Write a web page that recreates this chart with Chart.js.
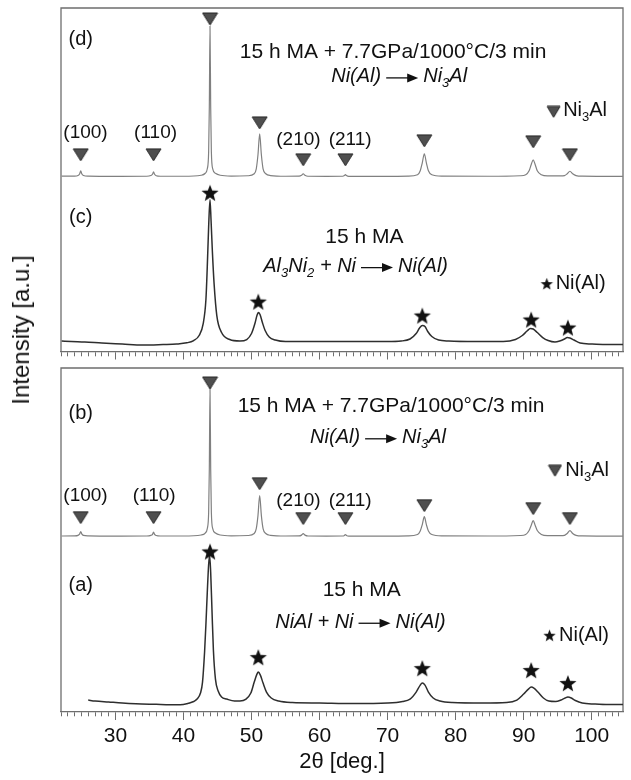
<!DOCTYPE html>
<html>
<head>
<meta charset="utf-8">
<script src="https://cdn.jsdelivr.net/npm/chart.js@4.4.1/dist/chart.umd.min.js"></script>
<style>
  body { margin: 0; background: #fff; width: 631px; height: 780px; position: relative; overflow: hidden;
         font-family: 'Liberation Sans', Arial, sans-serif; }
  #topChart { position: absolute; left: 0; top: 0; }
  #botChart { position: absolute; left: 0; top: 360px; }
  #yTitle { position: absolute; left: 21px; top: 330px; transform: translate(-50%, -50%) rotate(-90deg);
            font-size: 24px; white-space: nowrap; color: #111; }
</style>
</head>
<body>
<canvas id="topChart" width="631" height="362"></canvas>
<canvas id="botChart" width="631" height="420"></canvas>
<div id="yTitle">Intensity [a.u.]</div>
<script>
// ── Datos (2θ en grados, intensidad en u.a.) ─────────────────
const X_MIN = 22;
const X_MAX = 104.6;
const X_TICK_LABELS = [30, 40, 50, 60, 70, 80, 90, 100];

// (d) 15 h MA + 7.7GPa/1000°C/3 min  -> Ni3Al (desplazado hacia arriba)
const OFFSET_D = 175;
const patternD = [
  [22.1,0.6],[24.0,0.6],[24.5,1.2],[24.75,3],[24.9,6],[25.05,3],[25.3,1.2],[26.0,0.6],[30.0,0.4],
  [34.6,0.5],[35.2,1.2],[35.45,2.5],[35.6,5],[35.75,2.5],[36.0,1],[36.6,0.5],[40.0,0.5],
  [42.6,1.5],[43.2,3.5],[43.5,8],[43.7,25],[43.8,70],[43.9,151],[44.0,70],[44.1,25],[44.3,8],[44.7,3.5],[45.4,1.5],
  [47.0,0.7],[49.5,1],[50.4,3],[50.7,8],[50.95,22],[51.2,43],[51.45,22],[51.7,8],[52.1,3],[52.8,1.2],
  [55.0,0.5],[57.0,0.6],[57.35,1.5],[57.6,3],[57.85,1.5],[58.3,0.5],[61.0,0.4],
  [63.4,0.5],[63.65,1.2],[63.8,2.2],[63.95,1.2],[64.3,0.4],[68.0,0.3],
  [73.0,0.7],[74.4,2],[74.8,6],[75.1,14],[75.4,23],[75.7,14],[76.0,6],[76.5,2],[78.0,0.7],
  [85.0,0.5],[89.5,1],[90.3,2],[90.8,6],[91.1,12],[91.4,17],[91.7,12],[92.0,6],[92.6,2],[93.5,0.8],
  [95.4,0.8],[96.0,1.2],[96.4,3],[96.8,5.5],[97.2,3],[97.7,1.2],[98.6,0.6],[104.6,0.4]
];

// (c) 15 h MA  -> Ni(Al)
const patternC = [
  [22.1,10.5],[23.5,10],[25.5,9.5],[28,8.5],[31,7.5],[34,6.5],[37,7],[39,7.5],[40.5,8.7],[41.5,11],
  [42.3,16],[42.9,28],[43.3,52],[43.5,85],[43.7,125],[43.9,152],[44.05,132],[44.25,100],[44.5,68],
  [44.9,36],[45.6,19],[46.8,12],[48.3,10.5],[49.3,12],[50.0,18],[50.5,28],[50.8,36],[51.0,39],
  [51.25,37],[51.6,29],[52.0,21],[52.6,14.5],[53.5,11.5],[55,10],[58,10],[62,10],[66,10],[70,10],
  [72,10.5],[73.3,12.5],[74.2,18],[74.7,23.5],[75.1,26],[75.5,25],[75.9,20],[76.5,15],[77.5,11.5],
  [79,10.5],[83,10],[87,10],[88.8,12],[89.8,16],[90.5,20.5],[91.0,23],[91.4,22.5],[92.0,19],
  [92.8,14],[93.6,11],[94.6,9.5],[95.3,10.5],[96.0,12.5],[96.4,14],[96.8,13.5],[97.4,11.5],
  [98.3,8.5],[100,7.5],[102,7],[104.6,7]
];

// (b) igual que (d), panel inferior
const OFFSET_B = 176;
const patternB = [
  [22.1,0.5],[24.0,0.6],[24.5,1.1],[24.75,2.6],[24.9,5],[25.05,2.6],[25.3,1.1],[26.0,0.6],[30.0,0.4],
  [34.6,0.5],[35.2,1.1],[35.45,2.2],[35.6,4.5],[35.75,2.2],[36.0,1],[36.6,0.5],[40.0,0.5],
  [42.6,1.5],[43.2,3.5],[43.5,8],[43.7,24],[43.8,68],[43.9,149],[44.0,68],[44.1,24],[44.3,8],[44.7,3.5],[45.4,1.5],
  [47.0,0.7],[49.5,1],[50.4,3],[50.7,8],[50.95,21],[51.2,41],[51.45,21],[51.7,8],[52.1,3],[52.8,1.2],
  [55.0,0.5],[57.0,0.6],[57.35,1.4],[57.6,2.8],[57.85,1.4],[58.3,0.5],[61.0,0.4],
  [63.4,0.5],[63.65,1.1],[63.8,2],[63.95,1.1],[64.3,0.4],[68.0,0.3],
  [73.0,0.7],[74.4,2],[74.8,5.5],[75.1,12],[75.4,20],[75.7,12],[76.0,5.5],[76.5,2],[78.0,0.7],
  [85.0,0.5],[89.5,1],[90.3,2],[90.8,6],[91.1,11],[91.4,16],[91.7,11],[92.0,6],[92.6,2],[93.5,0.8],
  [95.4,0.8],[96.0,1.2],[96.4,3],[96.8,6],[97.2,3],[97.7,1.2],[98.6,0.6],[104.6,0.4]
];

// (a) 15 h MA  -> Ni(Al)
const patternA = [
  [26.0,12],[27.0,11],[29.0,10],[31.0,9],[33.0,8.3],[36.0,7.7],[38.0,7.3],[39.5,7.3],[40.7,8.7],
  [41.5,10.5],[42.0,13],[42.5,19],[42.8,30],[43.1,60],[43.3,88],[43.5,120],[43.7,148],[43.85,157],
  [44.0,140],[44.2,100],[44.4,62],[44.7,33],[45.1,21],[45.6,15],[46.35,13],[47.5,11],[48.3,11],
  [49.2,13],[49.9,19],[50.4,30],[50.8,38],[51.0,40],[51.3,37],[51.7,29],[52.2,20],[52.9,14],
  [54.0,11],[56.0,9.5],[60.0,9],[65.0,8.5],[70.0,9],[72.2,10.5],[73.3,13],[74.2,20],[74.8,27],
  [75.1,29],[75.5,27],[76.0,20],[76.7,14],[77.7,11],[79.5,9.5],[84.0,9],[87.5,9.5],[89.0,12],
  [90.0,18],[90.7,23],[91.1,25],[91.5,24],[92.1,20],[92.9,14],[93.7,11],[94.7,10.5],[95.5,12],
  [96.1,14],[96.5,15],[97.0,14],[97.6,11.5],[98.6,9],[100.5,8],[102.5,7.5],[104.6,7.5]
];

// Marcadores de picos: ▼ Ni3Al y ★ Ni(Al)
const ni3alMarksD = [[24.9,197],[35.6,197],[43.9,333],[51.2,229],[57.6,192],[63.8,192],[75.4,211],[91.4,210],[96.8,197]];
const niAlMarksC  = [[43.9,159],[51.0,50],[75.1,36],[91.1,32],[96.5,24]];
const ni3alMarksB = [[24.9,195],[35.6,195],[43.9,330],[51.2,229],[57.6,194],[63.8,194],[75.4,207],[91.4,204],[96.8,194]];
const niAlMarksA  = [[43.9,161],[51.0,55],[75.1,44],[91.1,42],[96.5,29]];
const legendTriTop = [[94.4,240]];
const legendStarTop = [[93.4,68]];
const legendTriBot = [[94.6,242]];
const legendStarBot = [[93.8,77]];

// ── Textos del panel (posición en unidades de datos) ─────────
const ARROW = '→';
const notesTop = [
  { x: 24.9, y: 312, size: 20, parts: [['(d)']] },
  { x: 70.8, y: 300, size: 21, parts: [['15 h MA + 7.7GPa/1000°C/3 min']] },
  { x: 71.7, y: 275, size: 20, parts: [['Ni(Al)', 'i'], [ARROW, 'arrow'], ['Ni', 'i'], ['3', 'isub'], ['Al', 'i']] },
  { x: 95.8, y: 241, size: 20, align: 'left', parts: [['Ni'], ['3', 'sub'], ['Al']] },
  { x: 25.6, y: 219, size: 19, parts: [['(100)']] },
  { x: 35.9, y: 219, size: 19, parts: [['(110)']] },
  { x: 56.9, y: 212, size: 19, parts: [['(210)']] },
  { x: 64.5, y: 212, size: 19, parts: [['(211)']] },
  { x: 24.9, y: 134, size: 20, parts: [['(c)']] },
  { x: 66.6, y: 114, size: 21, parts: [['15 h MA']] },
  { x: 65.3, y: 85,  size: 20, parts: [['Al', 'i'], ['3', 'isub'], ['Ni', 'i'], ['2', 'isub'], [' + Ni', 'i'], [ARROW, 'arrow'], ['Ni(Al)', 'i']] },
  { x: 94.7, y: 68,  size: 20, align: 'left', parts: [['Ni(Al)']] },
];
const notesBot = [
  { x: 24.9, y: 299, size: 20, parts: [['(b)']] },
  { x: 70.5, y: 307, size: 21, parts: [['15 h MA + 7.7GPa/1000°C/3 min']] },
  { x: 68.6, y: 275, size: 20, parts: [['Ni(Al)', 'i'], [ARROW, 'arrow'], ['Ni', 'i'], ['3', 'isub'], ['Al', 'i']] },
  { x: 96.1, y: 242, size: 20, align: 'left', parts: [['Ni'], ['3', 'sub'], ['Al']] },
  { x: 25.6, y: 217, size: 19, parts: [['(100)']] },
  { x: 35.7, y: 217, size: 19, parts: [['(110)']] },
  { x: 56.9, y: 212, size: 19, parts: [['(210)']] },
  { x: 64.5, y: 212, size: 19, parts: [['(211)']] },
  { x: 24.9, y: 127, size: 20, parts: [['(a)']] },
  { x: 66.2, y: 122, size: 21, parts: [['15 h MA']] },
  { x: 66.0, y: 90,  size: 20, parts: [['NiAl + Ni', 'i'], [ARROW, 'arrow'], ['Ni(Al)', 'i']] },
  { x: 95.2, y: 77,  size: 20, align: 'left', parts: [['Ni(Al)']] },
];

// ── Estilo ────────────────────────────────────────────────────
const FONT   = "'Liberation Sans', Arial, sans-serif";
const FRAME  = '#6e6e6e';
const INK    = '#111';
const LIGHT  = '#808080';
const DARK   = '#2e2e2e';

Chart.defaults.font.family = FONT;
Chart.defaults.color = INK;

// ── Helpers ───────────────────────────────────────────────────
function toPoints(pairs, offset = 0) {
  return pairs.map(([x, y]) => ({ x, y: y + offset }));
}

function triangleImage(w, h) {
  const c = document.createElement('canvas');
  c.width = w + 2; c.height = h + 2;
  const g = c.getContext('2d');
  g.beginPath();
  g.moveTo(1, 1); g.lineTo(w + 1, 1); g.lineTo(w / 2 + 1, h + 1); g.closePath();
  g.fillStyle = '#4f4f4f'; g.fill();
  g.strokeStyle = '#262626'; g.lineWidth = 1; g.stroke();
  return c;
}

function starImage(r) {
  const s = Math.ceil(r * 2) + 2;
  const c = document.createElement('canvas');
  c.width = c.height = s;
  const g = c.getContext('2d');
  g.translate(s / 2, s / 2 + r * 0.1);
  g.beginPath();
  for (let i = 0; i < 10; i++) {
    const a = -Math.PI / 2 + i * Math.PI / 5;
    const rr = i % 2 ? r * 0.42 : r;
    g.lineTo(Math.cos(a) * rr, Math.sin(a) * rr);
  }
  g.closePath();
  g.fillStyle = '#111'; g.fill();
  return c;
}

const TRI      = triangleImage(15, 12);
const TRI_SM   = triangleImage(13, 11);
const STAR     = starImage(9);
const STAR_SM  = starImage(6.5);

function lineSet(pairs, offset, color, width) {
  return {
    data: toPoints(pairs, offset), showLine: true, borderColor: color, borderWidth: width,
    pointRadius: 0, cubicInterpolationMode: 'monotone', order: 2,
  };
}

function markSet(pairs, img) {
  return { data: toPoints(pairs), showLine: false, pointStyle: img, pointRadius: 7, order: 0 };
}

// ── Plugins: marco y textos ───────────────────────────────────
const framePlugin = {
  id: 'frame',
  beforeDatasetsDraw(chart) {
    const { ctx, chartArea: a } = chart;
    ctx.save();
    ctx.strokeStyle = FRAME;
    ctx.lineWidth = 1.3;
    ctx.beginPath();
    ctx.moveTo(a.left, a.bottom);
    ctx.lineTo(a.left, a.top);
    ctx.lineTo(a.right, a.top);
    ctx.lineTo(a.right, a.bottom);
    ctx.stroke();
    ctx.restore();
  },
};

function fontFor(style, size) {
  const italic = style.startsWith('i') ? 'italic ' : '';
  const sz = style.endsWith('sub') ? Math.round(size * 0.65) : size;
  return `${italic}${sz}px ${FONT}`;
}

const ARROW_GAP = 5, ARROW_LEN = 32;

const notesPlugin = {
  id: 'notes',
  afterDatasetsDraw(chart, args, opts) {
    const { ctx } = chart;
    const xs = chart.scales.x, ys = chart.scales.y;
    ctx.save();
    ctx.fillStyle = INK;
    ctx.strokeStyle = INK;
    ctx.textBaseline = 'middle';
    ctx.textAlign = 'left';
    (opts.items || []).forEach(item => {
      const widths = item.parts.map(([t, st = '']) => {
        if (st === 'arrow') return ARROW_LEN + 2 * ARROW_GAP;
        ctx.font = fontFor(st, item.size);
        return ctx.measureText(t).width;
      });
      const total = widths.reduce((s, w) => s + w, 0);
      const px = xs.getPixelForValue(item.x);
      const py = ys.getPixelForValue(item.y);
      let x = item.align === 'left' ? px : px - total / 2;
      item.parts.forEach(([t, st = ''], i) => {
        if (st === 'arrow') {
          const x0 = x + ARROW_GAP, x1 = x0 + ARROW_LEN;
          ctx.lineWidth = 1.3;
          ctx.beginPath(); ctx.moveTo(x0, py + 1); ctx.lineTo(x1 - 8, py + 1); ctx.stroke();
          ctx.beginPath(); ctx.moveTo(x1, py + 1); ctx.lineTo(x1 - 11, py - 3.5); ctx.lineTo(x1 - 11, py + 5.5); ctx.closePath(); ctx.fill();
        } else {
          ctx.font = fontFor(st, item.size);
          ctx.fillText(t, x, py + (st.endsWith('sub') ? item.size * 0.32 : 0));
        }
        x += widths[i];
      });
    });
    ctx.restore();
  },
};

// ── Configuración de cada panel ───────────────────────────────
function isMajor(v) { return Math.abs(v - Math.round(v / 10) * 10) < 1e-6; }

function panelConfig(datasets, notes, yMax, padding, showLabels) {
  return {
    type: 'scatter',
    data: { datasets },
    options: {
      responsive: false,
      animation: false,
      events: [],
      layout: { padding },
      plugins: { legend: { display: false }, tooltip: { enabled: false }, notes: { items: notes } },
      scales: {
        x: {
          type: 'linear', min: X_MIN, max: X_MAX,
          border: { display: true, color: FRAME, width: 1.3 },
          grid: {
            drawOnChartArea: false, drawTicks: true, tickLength: 8, tickColor: FRAME, tickWidth: 1,
            tickBorderDash: ctx => (ctx.tick && isMajor(ctx.tick.value)) ? [] : [4, 40],
          },
          ticks: {
            display: showLabels, stepSize: 1, autoSkip: false, maxRotation: 0, includeBounds: false,
            padding: 4, color: INK, font: { size: 21 },
            callback: v => X_TICK_LABELS.includes(Math.round(v)) && isMajor(v) ? String(Math.round(v)) : '',
          },
          title: {
            display: showLabels, text: '2θ [deg.]', color: INK,
            font: { size: 22, lineHeight: 1 }, padding: { top: -2, bottom: 0 },
          },
        },
        y: { display: false, min: 0, max: yMax },
      },
    },
    plugins: [framePlugin, notesPlugin],
  };
}

// Panel superior: (d) y (c)
new Chart(document.getElementById('topChart'), panelConfig([
  markSet(ni3alMarksD, TRI),
  markSet(niAlMarksC, STAR),
  markSet(legendTriTop, TRI_SM),
  markSet(legendStarTop, STAR_SM),
  lineSet(patternD, OFFSET_D, LIGHT, 1.2),
  lineSet(patternC, 0, DARK, 1.5),
], notesTop, 344, { top: 7.5, left: 61, right: 6, bottom: 2.5 }, false));

// Panel inferior: (b) y (a)
new Chart(document.getElementById('botChart'), panelConfig([
  markSet(ni3alMarksB, TRI),
  markSet(niAlMarksA, STAR),
  markSet(legendTriBot, TRI_SM),
  markSet(legendStarBot, STAR_SM),
  lineSet(patternB, OFFSET_B, LIGHT, 1.2),
  lineSet(patternA, 0, DARK, 1.5),
], notesBot, 345, { top: 7, left: 61, right: 6, bottom: 6.8 }, true));
</script>
</body>
</html>
